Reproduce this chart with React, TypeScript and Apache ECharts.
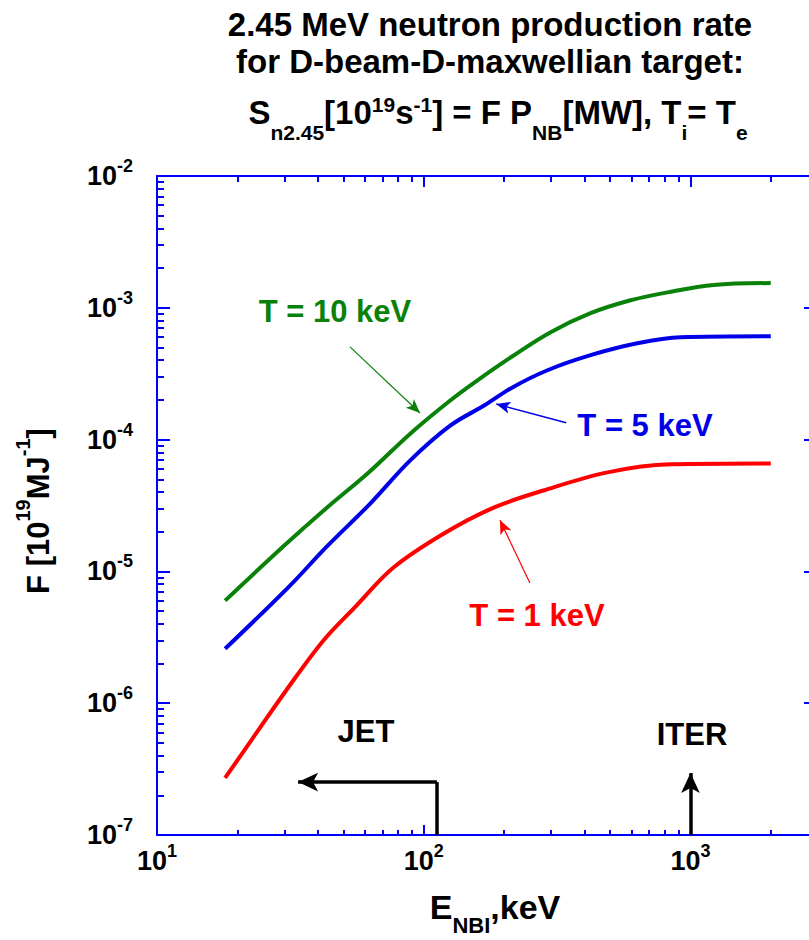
import React, { useEffect, useRef } from "react";
import * as echarts from "echarts";

const FONT = '"Liberation Sans", Arial, Helvetica, sans-serif';

// NBI energy (keV) and F (10^19 MJ^-1)
const energyT10 = [18, 30, 43, 62, 89, 126, 159, 215, 299, 422, 596, 820, 1220, 2000];
const rateT10 = [6.0e-6, 1.57e-5, 3.0e-5, 5.6e-5, 1.11e-4, 1.99e-4, 2.82e-4, 4.29e-4, 6.53e-4, 9.1e-4, 1.14e-3, 1.31e-3, 1.49e-3, 1.54e-3];

const energyT5 = [18, 31, 43, 63, 89, 126, 169, 215, 291, 422, 632, 918, 2000];
const rateT5 = [2.59e-6, 7.53e-6, 1.52e-5, 3.27e-5, 6.95e-5, 1.28e-4, 1.82e-4, 2.49e-4, 3.36e-4, 4.37e-4, 5.38e-4, 5.98e-4, 6.08e-4];

const energyT1 = [18, 22.5, 31, 42, 55, 77, 119, 183, 281, 489, 841, 2000];
const rateT1 = [2.71e-7, 5.18e-7, 1.31e-6, 2.98e-6, 5.31e-6, 1.07e-5, 1.94e-5, 3.05e-5, 4.11e-5, 5.64e-5, 6.49e-5, 6.59e-5];

// axis ranges and ticks
const xMin = 10;
const xMax = 2830; // the right frame edge lies just past the picture's border
const yMin = 1e-7;
const yMax = 1e-2;
const xMajorTicks = [10, 100, 1000];
const yMajorTicks = [1e-7, 1e-6, 1e-5, 1e-4, 1e-3, 1e-2];
const minorMultipliers = [2, 3, 4, 5, 6, 7, 8, 9];

// annotation arrows in data units [E, F]: start -> end
const arrowT10 = [[52.9, 5.05e-4], [96.8, 1.59e-4]];
const arrowT5 = [[342, 1.34e-4], [187, 1.86e-4]];
const arrowT1 = [[250, 8.17e-6], [193, 2.45e-5]];
const jetEnergy = 112;
const jetArrowEnd = 33.8;
const jetLevel = 2.52e-7;
const iterEnergy = 1000;
const iterTop = 2.95e-7;

const GREEN = "#0a820a";
const BLUE = "#0000e8";
const RED = "#ff0000";
const AXIS = "#0000ff";

const minorOf = (majors: number[], max: number) =>
  majors
    .flatMap((m) => minorMultipliers.map((k) => +(m * k).toPrecision(6)))
    .filter((v) => v < max);

const pairs = (xs: number[], ys: number[]) => xs.map((x, i) => [x, ys[i]]);

const powLabel = (v: number) => `{b|10}{s|${Math.round(Math.log10(v))}}`;

const tickRich = {
  b: { fontFamily: FONT, fontWeight: "bold", fontSize: 27, color: "#000", verticalAlign: "middle" },
  s: { fontFamily: FONT, fontWeight: "bold", fontSize: 18, color: "#000", verticalAlign: "middle", padding: [0, 0, 20, 0] },
};

const makeAxis = (
  pos: string,
  min: number,
  max: number,
  ticks: number[],
  len: number,
  showLine: boolean,
  label: any
) => ({
  type: "log",
  logBase: 10,
  position: pos,
  min,
  max,
  axisLine: { show: showLine, onZero: false, lineStyle: { color: AXIS, width: 2 } },
  axisTick: { show: true, inside: true, length: len, customValues: ticks, lineStyle: { color: AXIS, width: 2 } },
  axisLabel: label ? label : { show: false },
  splitLine: { show: false },
  minorTick: { show: false },
  minorSplitLine: { show: false },
});

const bold = (size: number) => `bold ${size}px ${FONT}`;

export default function App() {
  const ref = useRef<HTMLDivElement>(null);

  useEffect(() => {
    if (!ref.current) return;
    const chart = echarts.init(ref.current, undefined, { renderer: "svg" });

    const xMinor = minorOf(xMajorTicks, xMax);
    const yMinor = minorOf(yMajorTicks, yMax);

    const richText = (main: number, small: number, subPad: number, supPad: number, color = "#000") => ({
      m: { fontFamily: FONT, fontWeight: "bold", fontSize: main, fill: color, color, verticalAlign: "middle" },
      sub: { fontFamily: FONT, fontWeight: "bold", fontSize: small, fill: color, color, verticalAlign: "middle", padding: [subPad, 0, 0, 0] },
      sup: { fontFamily: FONT, fontWeight: "bold", fontSize: small, fill: color, color, verticalAlign: "middle", padding: [0, 0, supPad, 0] },
    });

    const textEl = (x: number, y: number, text: string, size: number, color: string) => ({
      type: "text",
      x,
      y,
      style: { text, font: bold(size), fill: color, align: "center", verticalAlign: "middle" },
    });

    const option: any = {
      animation: false,
      backgroundColor: "#ffffff",
      grid: { left: 157, top: 176, right: 149, bottom: 105, containLabel: false, outerBoundsMode: "none" },
      xAxis: [
        makeAxis("bottom", xMin, xMax, xMinor, 5, true, {
          show: true,
          customValues: xMajorTicks,
          margin: 7,
          formatter: powLabel,
          rich: tickRich,
        }),
        makeAxis("bottom", xMin, xMax, xMajorTicks, 10, false, null),
        makeAxis("top", xMin, xMax, xMinor, 6, true, null),
        makeAxis("top", xMin, xMax, xMajorTicks, 11, false, null),
      ],
      yAxis: [
        makeAxis("left", yMin, yMax, yMinor, 7, true, {
          show: true,
          customValues: yMajorTicks,
          margin: 24,
          formatter: powLabel,
          rich: tickRich,
        }),
        makeAxis("left", yMin, yMax, yMajorTicks, 13, false, null),
        makeAxis("right", yMin, yMax, yMajorTicks, 7, true, null),
      ],
      series: [
        {
          name: "T = 10 keV",
          type: "line",
          data: pairs(energyT10, rateT10),
          symbol: "none",
          showSymbol: false,
          smooth: 0.35,
          lineStyle: { color: GREEN, width: 4 },
          itemStyle: { color: GREEN },
          markLine: {
            silent: true,
            symbol: ["none", "arrow"],
            symbolSize: [9, 14],
            label: { show: false },
            lineStyle: { color: GREEN, width: 1.2, type: "solid" },
            data: [[{ coord: arrowT10[0] }, { coord: arrowT10[1] }]],
          },
        },
        {
          name: "T = 5 keV",
          type: "line",
          data: pairs(energyT5, rateT5),
          symbol: "none",
          showSymbol: false,
          smooth: 0.35,
          lineStyle: { color: BLUE, width: 4 },
          itemStyle: { color: BLUE },
          markLine: {
            silent: true,
            symbol: ["none", "arrow"],
            symbolSize: [9, 14],
            label: { show: false },
            lineStyle: { color: BLUE, width: 1.5, type: "solid" },
            data: [[{ coord: arrowT5[0] }, { coord: arrowT5[1] }]],
          },
        },
        {
          name: "T = 1 keV",
          type: "line",
          data: pairs(energyT1, rateT1),
          symbol: "none",
          showSymbol: false,
          smooth: 0.35,
          lineStyle: { color: RED, width: 4 },
          itemStyle: { color: RED },
          markLine: {
            silent: true,
            symbol: ["none", "arrow"],
            symbolSize: [9, 14],
            label: { show: false },
            lineStyle: { color: RED, width: 1.2, type: "solid" },
            data: [
              [{ coord: arrowT1[0] }, { coord: arrowT1[1] }],
              [
                { coord: [jetEnergy, yMin], symbol: "none", lineStyle: { color: "#000", width: 3.5 } },
                { coord: [jetEnergy, jetLevel], symbol: "none" },
              ],
              [
                { coord: [jetEnergy, jetLevel], symbol: "none", lineStyle: { color: "#000", width: 3.5 } },
                { coord: [jetArrowEnd, jetLevel], symbol: "arrow", symbolSize: [14, 20] },
              ],
              [
                { coord: [iterEnergy, yMin], symbol: "none", lineStyle: { color: "#000", width: 3.5 } },
                { coord: [iterEnergy, iterTop], symbol: "arrow", symbolSize: [14, 20] },
              ],
            ],
          },
        },
      ],
      graphic: [
        {
          type: "text",
          x: 490,
          y: 43,
          style: {
            text: "2.45 MeV neutron production rate\nfor D-beam-D-maxwellian target:",
            font: bold(33),
            lineHeight: 37,
            fill: "#000",
            align: "center",
            verticalAlign: "middle",
          },
        },
        {
          type: "text",
          x: 498,
          y: 112,
          style: {
            text: "{m|S}{sub|n2.45}{m|[10}{sup|19}{m|s}{sup|-1}{m|] = F P}{sub|NB}{m|[MW], T}{sub|i}{m|= T}{sub|e}",
            rich: richText(33, 21, 40, 15),
            align: "center",
            verticalAlign: "middle",
            font: bold(33),
            fill: "#000",
          },
        },
        {
          type: "text",
          x: 38,
          y: 511,
          rotation: Math.PI / 2,
          style: {
            text: "{m|F [10}{sup|19}{m|MJ}{sup|-1}{m|]}",
            rich: richText(31, 20, 30, 30),
            align: "center",
            verticalAlign: "middle",
            font: bold(31),
            fill: "#000",
          },
        },
        {
          type: "text",
          x: 495,
          y: 907,
          style: {
            text: "{m|E}{sub|NBI}{m|,keV}",
            rich: richText(34, 22, 36, 30),
            align: "center",
            verticalAlign: "middle",
            font: bold(34),
            fill: "#000",
          },
        },
        textEl(335, 311, "T = 10 keV", 31, GREEN),
        textEl(645, 425, "T = 5 keV", 31, BLUE),
        textEl(537, 615, "T = 1 keV", 31, RED),
        textEl(366, 731, "JET", 31, "#000"),
        textEl(692, 734, "ITER", 31, "#000"),
      ],
    };

    chart.setOption(option);
    return () => chart.dispose();
  }, []);

  return (
    <div
      style={{
        position: "absolute",
        left: 0,
        top: 0,
        width: 809,
        height: 940,
        overflow: "hidden",
        background: "#fff",
      }}
    >
      <div ref={ref} style={{ width: 960, height: 940 }} />
    </div>
  );
}
